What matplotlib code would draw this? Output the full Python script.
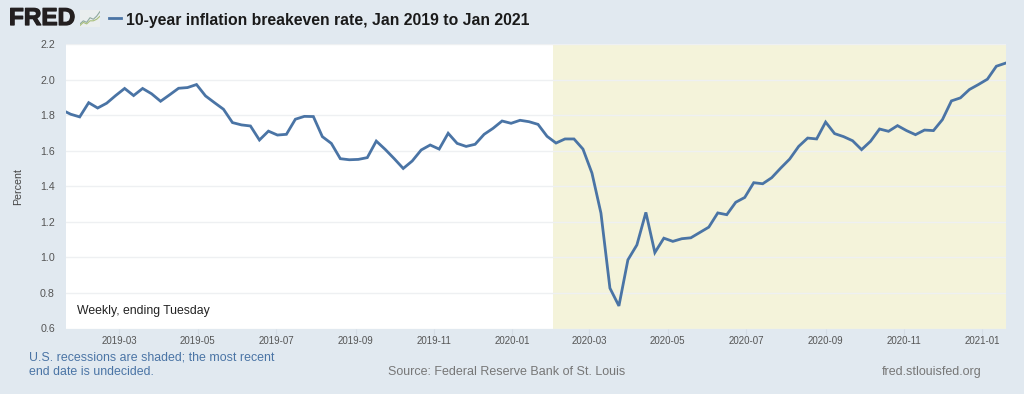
import matplotlib
matplotlib.use('Agg')
import matplotlib.pyplot as plt
import matplotlib.dates as mdates
import matplotlib.patheffects as pe
import pandas as pd

plt.rcParams['font.family'] = ['Liberation Sans', 'DejaVu Sans']

W, H = 1024, 394
BG = '#e1e9f0'
LINE = '#4a74a5'
SHADE = '#f4f3da'
GRID = '#eef0f2'

# weekly readings, Tuesdays, first one sits just left of the axis
first_week = '2019-01-15'
breakeven = [
    1.83, 1.805, 1.79, 1.87, 1.84, 1.867, 1.91, 1.95, 1.91, 1.95, 1.92, 1.878, 1.914, 1.951,
    1.955, 1.972, 1.908, 1.87, 1.833, 1.758, 1.745, 1.739, 1.66, 1.71, 1.688, 1.692, 1.777,
    1.793, 1.792, 1.679, 1.641, 1.555, 1.549, 1.551, 1.561, 1.654, 1.607, 1.555, 1.50, 1.542,
    1.604, 1.632, 1.609, 1.698, 1.641, 1.624, 1.636, 1.692, 1.726, 1.767, 1.754, 1.771, 1.763,
    1.748, 1.681, 1.643, 1.666, 1.666, 1.609, 1.474, 1.249, 0.827, 0.727, 0.986, 1.07, 1.253,
    1.027, 1.108, 1.09, 1.105, 1.11, 1.14, 1.17, 1.25, 1.24, 1.31, 1.337, 1.42, 1.414, 1.448,
    1.502, 1.553, 1.624, 1.671, 1.666, 1.761, 1.696, 1.679, 1.656, 1.606, 1.653, 1.722, 1.709,
    1.741, 1.713, 1.69, 1.716, 1.713, 1.775, 1.88, 1.897, 1.944, 1.972, 2.002, 2.075, 2.092,
]
month_labels = ['2019-03', '2019-05', '2019-07', '2019-09', '2019-11', '2020-01',
                '2020-03', '2020-05', '2020-07', '2020-09', '2020-11', '2021-01']
y_ticks = [0.6, 0.8, 1.0, 1.2, 1.4, 1.6, 1.8, 2.0, 2.2]
recession_start = '2020-02-01 18:00'
x_start = '2019-01-18 08:00'
x_end = '2021-01-19 12:00'

left_px, right_px, top_px, bottom_px = 66, 1006, 44, 328.5

dates = pd.date_range(first_week, periods=len(breakeven), freq='7D')
tick_dates = mdates.date2num(pd.to_datetime(month_labels))

fig = plt.figure(figsize=(W / 100, H / 100), dpi=100, facecolor=BG)
ax = fig.add_axes([left_px / W, 1 - bottom_px / H, (right_px - left_px) / W, (bottom_px - top_px) / H])
ax.set_xlim(pd.Timestamp(x_start), pd.Timestamp(x_end))
ax.set_ylim(0.6, 2.2)

ax.axvspan(pd.Timestamp(recession_start), pd.Timestamp(x_end), color=SHADE, lw=0, zorder=0)
ax.plot(dates, breakeven, color=LINE, lw=2.0, solid_joinstyle='miter', zorder=3)

ax.set_yticks(y_ticks)
ax.set_yticklabels([f'{v:.1f}' for v in y_ticks], fontsize=7.7, color='#555555')
ax.set_xticks(tick_dates)
ax.set_xticklabels(month_labels, fontsize=7.0, color='#555555')
ax.tick_params(axis='y', length=0, pad=8)
ax.tick_params(axis='x', length=4, width=0.8, color='#d5dde6', pad=1.6)
ax.grid(axis='y', color=GRID, lw=1, zorder=1)
ax.set_axisbelow(True)
for s in ax.spines.values():
    s.set_visible(False)
ax.set_ylabel('Percent', fontsize=7.7, color='#444444')
ax.yaxis.set_label_coords((23 - left_px) / (right_px - left_px), 0.5)

ax.text(77 / W, 1 - 311 / H, 'Weekly, ending Tuesday', transform=fig.transFigure, fontsize=8.8,
        color='#222222', va='center', zorder=5)

# header: logo and title
fig.text(9 / W, 1 - 18.5 / H, 'FRED', fontsize=17.5, fontweight='bold', color='#231f20', va='center',
         path_effects=[pe.withStroke(linewidth=0.9, foreground='#231f20')])
logo = fig.add_axes([80 / W, 1 - 27 / H, 20 / W, 17 / H], facecolor='#eaeeee')
logo.plot([0, 1, 2, 3, 4, 5, 6], [1, 3, 2, 5, 4, 6, 9], color='#8fa9a0', lw=0.8)
logo.plot([0, 1, 2, 3, 4, 5, 6], [0, 2, 1, 3, 3, 4, 6], color='#a9bf7a', lw=0.8)
logo.set_xlim(0, 6)
logo.set_ylim(-1, 10)
logo.set_xticks([])
logo.set_yticks([])
for s in logo.spines.values():
    s.set_visible(False)
fig.add_artist(plt.Line2D([108.5 / W, 121 / W], [1 - 18 / H] * 2, color=LINE, lw=2.0))
fig.text(126.5 / W, 1 - 20 / H, '10-year inflation breakeven rate, Jan 2019 to Jan 2021', fontsize=11.3,
         fontweight='bold', color='#1a1a1a', va='center')

# footer
fig.text(29 / W, 1 - 357 / H, 'U.S. recessions are shaded; the most recent', fontsize=8.9,
         color='#4a74a5', va='center')
fig.text(29 / W, 1 - 372 / H, 'end date is undecided.', fontsize=8.9, color='#4a74a5', va='center')
fig.text(388 / W, 1 - 372 / H, 'Source: Federal Reserve Bank of St. Louis', fontsize=9, color='#777777', va='center')
fig.text(882 / W, 1 - 372 / H, 'fred.stlouisfed.org', fontsize=9, color='#777777', va='center')

fig.savefig('out.png', dpi=100, facecolor=BG)
